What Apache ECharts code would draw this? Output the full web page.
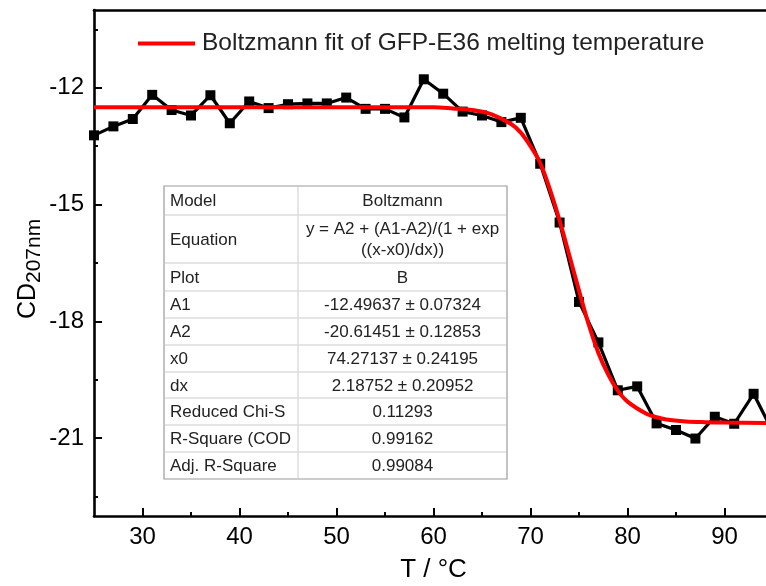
<!DOCTYPE html>
<html><head><meta charset="utf-8">
<script src="https://cdn.jsdelivr.net/npm/echarts@6/dist/echarts.min.js"></script>
<style>html,body{margin:0;padding:0;background:#fff}#c{width:766px;height:586px}</style>
</head><body><div id="c"></div>
<script>
// ---- data ----
const temperatures = [25,27,29,31,33,35,37,39,41,43,45,47,49,51,53,55,57,59,61,63,65,67,69,71,73,75,77,79,81,83,85,87,89,91,93,95];
const cdValues = [-13.22,-12.99,-12.80,-12.18,-12.57,-12.71,-12.19,-12.91,-12.35,-12.52,-12.42,-12.40,-12.40,-12.25,-12.54,-12.54,-12.76,-11.78,-12.15,-12.61,-12.71,-12.88,-12.77,-13.95,-15.46,-17.50,-18.54,-19.77,-19.67,-20.62,-20.79,-21.01,-20.45,-20.63,-19.86,-20.85];
const fitTemperatures = [25,60,62,64,66,68,69,70,71,72,73,74,75,76,77,78,79,80,82,83,84,86,88,90,95];
const fitValues = [-12.50,-12.50,-12.53,-12.57,-12.68,-12.93,-13.15,-13.50,-13.93,-14.61,-15.41,-16.30,-17.21,-18.08,-18.81,-19.36,-19.78,-20.06,-20.38,-20.46,-20.52,-20.57,-20.59,-20.60,-20.61];
const xMajorTicks = [30,40,50,60,70,80,90];
const xMinorTicks = [35,45,55,65,75,85];
const yMajorTicks = [-21,-18,-15,-12];
const yMinorTicks = [-22.5,-19.5,-16.5,-13.5,-10.5];
const tableLabels = ['Model','Equation','Plot','A1','A2','x0','dx','Reduced Chi-S','R-Square (COD','Adj. R-Square'];
const tableValues = ['Boltzmann','y = A2 + (A1-A2)/(1 + exp\n((x-x0)/dx))','B','-12.49637 ± 0.07324','-20.61451 ± 0.12853','74.27137 ± 0.24195','2.18752 ± 0.20952','0.11293','0.99162','0.99084'];
const legendLabel = 'Boltzmann fit of GFP-E36 melting temperature';
const xAxisName = 'T / °C';
const yAxisMain = 'CD';
const yAxisSub = '207nm';

// ---- layout ----
const FONT = '"Liberation Sans", Arial, Helvetica, sans-serif';
const tbl = {left:164, top:186, mid:298, right:507, rows:[29,48,28,27,27,27,26,27,27,27]};

function tableGraphics(){
  const els = [];
  const totalH = tbl.rows.reduce((a,b)=>a+b,0);
  els.push({type:'rect', shape:{x:tbl.left, y:tbl.top, width:tbl.right-tbl.left, height:totalH}, style:{fill:'#fff', stroke:'#9a9a9a', lineWidth:1.2}, z:100});
  let y = tbl.top;
  tbl.rows.forEach((h,i)=>{
    if(i>0){
      els.push({type:'line', shape:{x1:tbl.left+1, y1:y, x2:tbl.right-1, y2:y}, style:{stroke:'#dcdcdc', lineWidth:1.5}, z:101});
    }
    els.push({type:'text', style:{text:tableLabels[i], x:tbl.left+6, y:y+h/2+1, font:'17px '+FONT, fill:'#222', align:'left', verticalAlign:'middle'}, z:102});
    els.push({type:'text', style:{text:tableValues[i], x:(tbl.mid+tbl.right)/2, y:y+h/2+1, font:'17px '+FONT, fill:'#222', align:'center', verticalAlign:'middle', lineHeight:21}, z:102});
    y += h;
  });
  els.push({type:'line', shape:{x1:tbl.mid, y1:tbl.top+1, x2:tbl.mid, y2:tbl.top+totalH-1}, style:{stroke:'#dcdcdc', lineWidth:1.5}, z:101});
  return els;
}

const chart = echarts.init(document.getElementById('c'), null, {renderer:'canvas'});
const axisLineStyle = {color:'#000', width:2.6};
const option = {
  animation:false,
  backgroundColor:'#fff',
  textStyle:{fontFamily:FONT},
  grid:{left:94, top:10, right:-7, bottom:70, containLabel:false, outerBoundsMode:'none'},
  legend:{
    data:[legendLabel], left:138, top:31, padding:0,
    icon:'rect', itemWidth:57, itemHeight:4, itemGap:8,
    textStyle:{fontSize:24.5, color:'#222', fontFamily:FONT, padding:[0,0,0,2]}
  },
  xAxis:[
    {type:'value', position:'bottom', min:25, max:95,
     name:xAxisName, nameLocation:'middle', nameGap:41,
     nameTextStyle:{fontSize:26, color:'#000', fontFamily:FONT},
     axisLine:{show:true, onZero:false, lineStyle:axisLineStyle},
     axisTick:{show:true, inside:true, length:8, lineStyle:{color:'#000', width:2}, customValues:xMajorTicks},
     axisLabel:{show:true, customValues:xMajorTicks, fontSize:24, color:'#000', margin:9, fontFamily:FONT},
     splitLine:{show:false}},
    {type:'value', position:'bottom', min:25, max:95,
     axisLine:{show:false},
     axisTick:{show:true, inside:true, length:4, lineStyle:{color:'#000', width:2}, customValues:xMinorTicks},
     axisLabel:{show:false}, splitLine:{show:false}},
    {type:'value', position:'top', min:25, max:95,
     axisLine:{show:true, onZero:false, lineStyle:axisLineStyle},
     axisTick:{show:false}, axisLabel:{show:false}, splitLine:{show:false}}
  ],
  yAxis:[
    {type:'value', position:'left', min:-23, max:-10,
     axisLine:{show:true, onZero:false, lineStyle:axisLineStyle},
     axisTick:{show:true, inside:true, length:8, lineStyle:{color:'#000', width:2}, customValues:yMajorTicks},
     axisLabel:{show:true, customValues:yMajorTicks, fontSize:24, color:'#000', margin:10, fontFamily:FONT},
     splitLine:{show:false}},
    {type:'value', position:'left', min:-23, max:-10,
     axisLine:{show:false},
     axisTick:{show:true, inside:true, length:4, lineStyle:{color:'#000', width:2}, customValues:yMinorTicks},
     axisLabel:{show:false}, splitLine:{show:false}}
  ],
  series:[
    {type:'line', name:'CD data', xAxisIndex:0, yAxisIndex:0,
     data: temperatures.map((t,i)=>[t, cdValues[i]]),
     symbol:'rect', symbolSize:10, showSymbol:true,
     lineStyle:{color:'#000', width:3.2}, itemStyle:{color:'#000'}, z:2},
    {type:'line', name:legendLabel, xAxisIndex:0, yAxisIndex:0,
     data: fitTemperatures.map((t,i)=>[t, fitValues[i]]),
     smooth:0.35, symbol:'none', showSymbol:false,
     lineStyle:{color:'#ff0000', width:4}, itemStyle:{color:'#ff0000'}, z:3}
  ],
  graphic:[
    {type:'group', x:28, y:266, rotation:Math.PI/2, children:[
      {type:'text', style:{text:yAxisMain, x:-53, y:0, font:'25px '+FONT, fill:'#000', align:'left', verticalAlign:'middle'}},
      {type:'text', style:{text:yAxisSub, x:-17, y:6, font:'21px '+FONT, fill:'#000', align:'left', verticalAlign:'middle'}}
    ]},
    ...tableGraphics()
  ]
};
chart.setOption(option);
</script>
</body></html>
